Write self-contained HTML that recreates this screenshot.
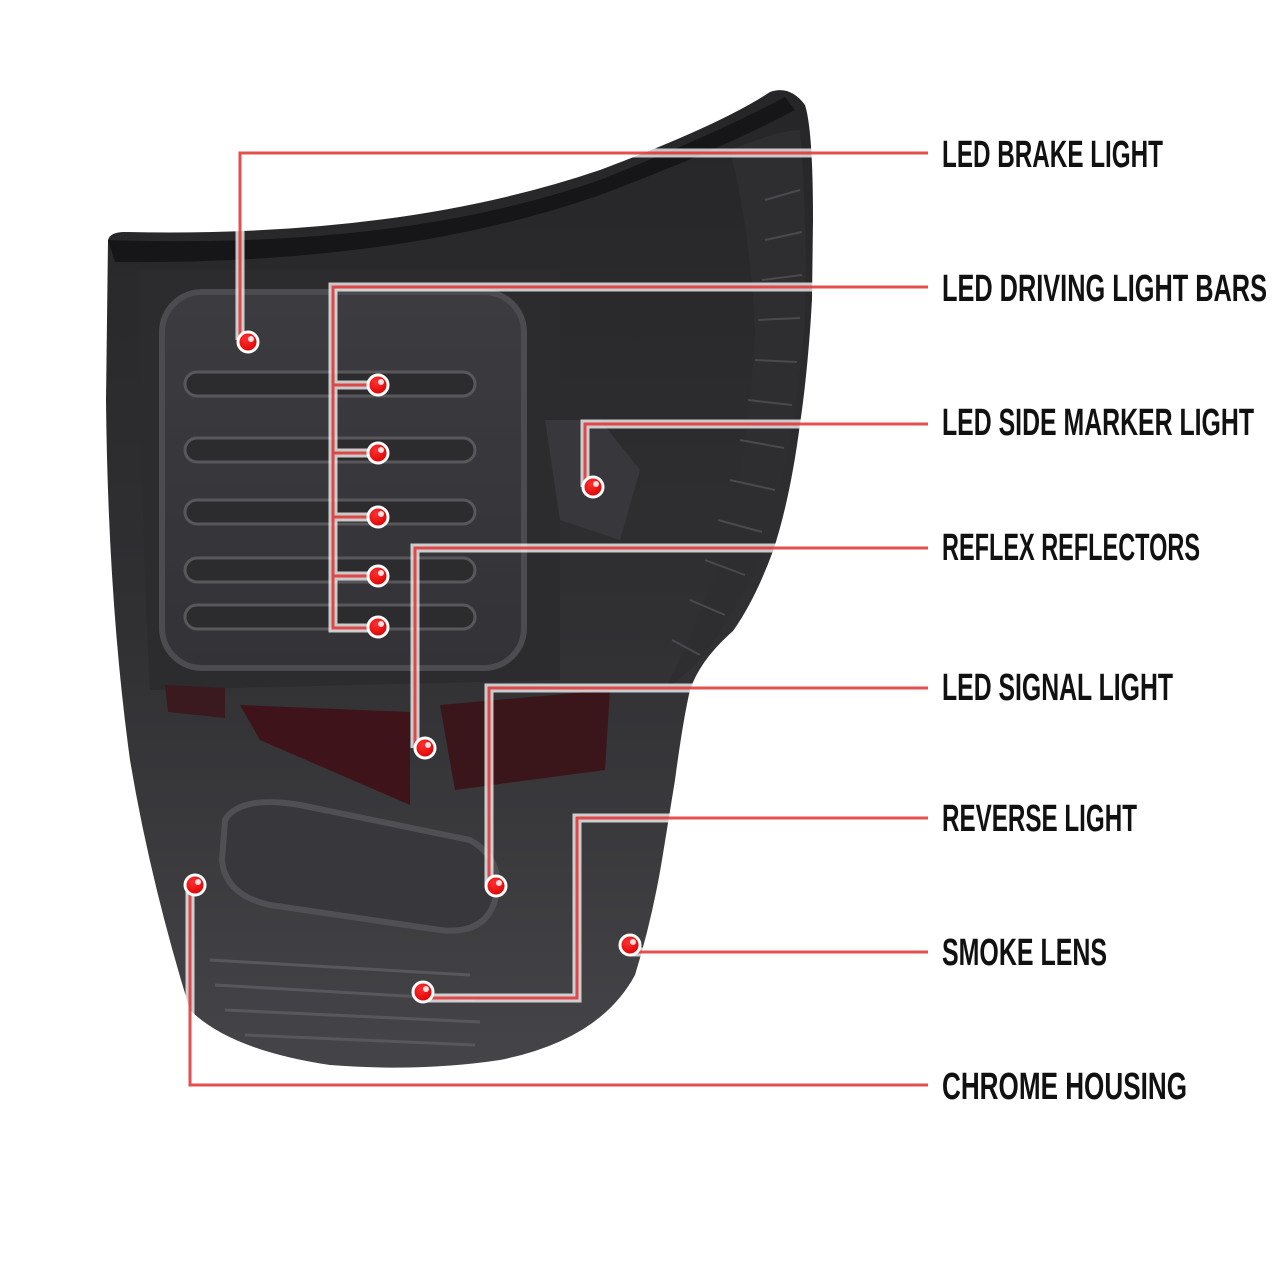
<!DOCTYPE html>
<html><head><meta charset="utf-8"><style>
html,body{margin:0;padding:0;background:#fff;width:1280px;height:1280px;overflow:hidden}
text{font-family:"Liberation Sans Narrow","Liberation Sans",sans-serif;fill:#111;font-weight:bold}
</style></head><body>
<svg width="1280" height="1280" viewBox="0 0 1280 1280" xmlns="http://www.w3.org/2000/svg">
<defs>
<linearGradient id="body" x1="0" y1="0" x2="0" y2="1">
<stop offset="0" stop-color="#262628"/><stop offset="0.55" stop-color="#303033"/><stop offset="1" stop-color="#454549"/>
</linearGradient>
<linearGradient id="panel" x1="0" y1="0" x2="0" y2="1">
<stop offset="0" stop-color="#3c3c40"/><stop offset="1" stop-color="#333337"/>
</linearGradient>
<radialGradient id="dot" cx="0.4" cy="0.35" r="0.7">
<stop offset="0" stop-color="#ff3030"/><stop offset="1" stop-color="#d80000"/>
</radialGradient>
</defs>
<!-- housing -->
<path d="M108 240 Q110 232 125 232 Q400 238 600 170 Q720 125 770 92 Q790 85 805 105 Q813 130 813 220 L812 300 Q808 370 800 424 Q790 500 773 551 Q755 600 733 631 Q700 660 690 690 Q683 720 675 780 L662 860 Q652 920 635 975 Q600 1040 500 1060 Q420 1072 330 1065 Q230 1050 190 1010 Q150 880 130 760 Q108 600 106 400 Z" fill="url(#body)"/>
<path d="M108 240 Q400 250 600 180 Q720 132 785 97 L795 110 Q720 150 600 195 Q400 265 115 262 Z" fill="#161618"/>
<!-- right ribbed area -->
<path d="M730 150 Q780 130 800 130 Q808 230 805 320 Q795 450 760 560 Q720 640 690 670 L665 690 Q700 620 720 560 Q750 450 755 330 Q750 230 730 150 Z" fill="#2e2e31"/>
<g stroke="#4a4a4e" stroke-width="2">
<line x1="765" y1="200" x2="800" y2="190"/><line x1="765" y1="240" x2="802" y2="232"/>
<line x1="762" y1="280" x2="802" y2="275"/><line x1="758" y1="320" x2="800" y2="318"/>
<line x1="755" y1="360" x2="797" y2="362"/><line x1="748" y1="400" x2="792" y2="405"/>
<line x1="740" y1="440" x2="784" y2="448"/><line x1="730" y1="480" x2="775" y2="490"/>
<line x1="718" y1="520" x2="762" y2="532"/><line x1="705" y1="560" x2="745" y2="575"/>
<line x1="690" y1="600" x2="725" y2="615"/><line x1="672" y1="640" x2="700" y2="655"/>
</g>
<!-- inner frame -->
<path d="M140 270 L560 270 L560 680 L150 690 Q140 500 140 270 Z" fill="#2c2c2f"/>
<rect x="162" y="292" width="362" height="376" rx="40" fill="url(#panel)" stroke="#4c4c50" stroke-width="6"/>
<g fill="#2c2c2f" stroke="#58585c" stroke-width="3">
<rect x="185" y="372" width="290" height="24" rx="12"/>
<rect x="185" y="438" width="290" height="24" rx="12"/>
<rect x="185" y="500" width="290" height="24" rx="12"/>
<rect x="185" y="558" width="290" height="24" rx="12"/>
<rect x="185" y="605" width="290" height="24" rx="12"/>
</g>
<!-- red reflector strips -->
<path d="M165 685 L225 688 L225 718 L168 712 Z" fill="#3a1a1e"/>
<path d="M240 705 L410 712 L410 805 L260 740 Z" fill="#3e141a"/>
<path d="M440 705 L610 690 L605 770 L455 790 Z" fill="#3a161b"/>
<!-- side marker area -->
<path d="M545 420 L600 420 L640 470 L620 540 L560 520 Z" fill="#38383c"/>
<!-- lower oval -->
<path d="M225 820 Q240 795 300 805 L470 840 Q505 860 495 900 Q485 935 440 930 L270 905 Q225 895 222 860 Z" fill="#38383c" stroke="#505054" stroke-width="6"/>
<!-- reverse slats -->
<g stroke="#58585c" stroke-width="3">
<line x1="210" y1="960" x2="470" y2="975"/><line x1="215" y1="985" x2="475" y2="1000"/>
<line x1="225" y1="1010" x2="480" y2="1022"/><line x1="245" y1="1035" x2="475" y2="1045"/>
</g>
<!-- callout lines -->
<g fill="none" stroke-linejoin="miter">
<g stroke="#ffffff" stroke-opacity="0.75" stroke-width="9">
<path d="M928 153 H240 V340"/>
<path d="M928 287 H333 V628 H378 M333 385 H378 M333 453 H378 M333 517 H378 M333 576 H378"/>
<path d="M928 424 H585 V487"/>
<path d="M928 548 H415 V748"/>
<path d="M928 688 H489 V886"/>
<path d="M928 818 H577 V998 H423"/>
<path d="M928 952 H630"/>
<path d="M928 1085 H190 V885"/>
</g>
<g stroke="#e03030" stroke-opacity="0.85" stroke-width="3">
<path d="M928 153 H240 V340"/>
<path d="M928 287 H333 V628 H378 M333 385 H378 M333 453 H378 M333 517 H378 M333 576 H378"/>
<path d="M928 424 H585 V487"/>
<path d="M928 548 H415 V748"/>
<path d="M928 688 H489 V886"/>
<path d="M928 818 H577 V998 H423"/>
<path d="M928 952 H630"/>
<path d="M928 1085 H190 V885"/>
</g>
</g>
<!-- dots -->
<g stroke="#fff" stroke-width="3" fill="url(#dot)">
<circle cx="248" cy="342" r="10"/>
<circle cx="378" cy="385" r="10"/><circle cx="378" cy="453" r="10"/><circle cx="378" cy="517" r="10"/>
<circle cx="378" cy="576" r="10"/><circle cx="378" cy="627" r="10"/>
<circle cx="593" cy="487" r="10"/><circle cx="425" cy="748" r="10"/><circle cx="496" cy="886" r="10"/>
<circle cx="423" cy="992" r="10"/><circle cx="630" cy="945" r="10"/><circle cx="195" cy="885" r="10"/>
</g>
<g fill="#fff" opacity="0.85">
<circle cx="251" cy="339" r="3"/><circle cx="381" cy="382" r="3"/><circle cx="381" cy="450" r="3"/>
<circle cx="381" cy="514" r="3"/><circle cx="381" cy="573" r="3"/><circle cx="381" cy="624" r="3"/>
<circle cx="596" cy="484" r="3"/><circle cx="428" cy="745" r="3"/><circle cx="499" cy="883" r="3"/>
<circle cx="426" cy="989" r="3"/><circle cx="633" cy="942" r="3"/><circle cx="198" cy="882" r="3"/>
</g>
<!-- labels -->
<g font-size="38">
<text x="942" y="167" textLength="221" lengthAdjust="spacingAndGlyphs">LED BRAKE LIGHT</text>
<text x="942" y="301" textLength="325" lengthAdjust="spacingAndGlyphs">LED DRIVING LIGHT BARS</text>
<text x="942" y="435" textLength="312" lengthAdjust="spacingAndGlyphs">LED SIDE MARKER LIGHT</text>
<text x="942" y="560" textLength="258" lengthAdjust="spacingAndGlyphs">REFLEX REFLECTORS</text>
<text x="942" y="700" textLength="231" lengthAdjust="spacingAndGlyphs">LED SIGNAL LIGHT</text>
<text x="942" y="831" textLength="195" lengthAdjust="spacingAndGlyphs">REVERSE LIGHT</text>
<text x="942" y="965" textLength="165" lengthAdjust="spacingAndGlyphs">SMOKE LENS</text>
<text x="942" y="1099" textLength="245" lengthAdjust="spacingAndGlyphs">CHROME HOUSING</text>
</g>
</svg>
</body></html>
